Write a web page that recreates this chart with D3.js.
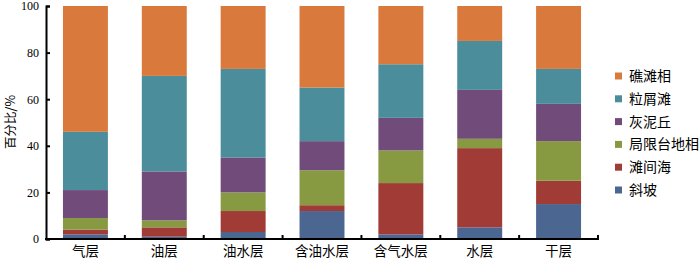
<!DOCTYPE html>
<html>
<head>
<meta charset="utf-8">
<script src="https://cdn.jsdelivr.net/npm/d3@7"></script>
<style>
  body { margin: 0; background: #ffffff; }
  text { font-family: "Noto Sans CJK SC", "Liberation Serif", serif; }
</style>
</head>
<body>
<svg width="700" height="260"></svg>
<script>
// categories along the x axis
var layers = ['气层', '油层', '油水层', '含油水层', '含气水层', '水层', '干层'];

// series, bottom to top of each bar (percent)
var seriesNames = ['斜坡', '滩间海', '局限台地相', '灰泥丘', '粒屑滩', '礁滩相'];
var xiePo      = [2, 1, 3, 12, 2, 5, 15];
var tanJianHai = [2, 4, 9, 2.5, 22, 34, 10];
var juXian     = [5, 3, 8, 15, 14, 4, 17];
var huiNiQiu   = [12, 21, 15, 12.5, 14, 21, 16];
var liXieTan   = [25, 41, 38, 23, 23, 21, 15];
var jiaoTan    = [54, 30, 27, 35, 25, 15, 27];

var yTicks = [0, 20, 40, 60, 80, 100];

var colors = ['#4c6692', '#a13b36', '#879a42', '#714c7b', '#4b8d9b', '#d97a3c'];

var seriesValues = [xiePo, tanJianHai, juXian, huiNiQiu, liXieTan, jiaoTan];

var rows = layers.map(function (name, i) {
  var row = {layer: name};
  for (var s = 0; s < seriesNames.length; s++) {
    row[seriesNames[s]] = seriesValues[s][i];
  }
  return row;
});

var stacked = d3.stack().keys(seriesNames)(rows);

var plotLeft = 46, plotRight = 598, plotTop = 6, plotBottom = 239;

var x = d3.scaleBand()
  .domain(layers)
  .range([plotLeft, plotRight])
  .paddingInner(0.43)
  .paddingOuter(0.215);

var y = d3.scaleLinear()
  .domain([0, 100])
  .range([plotBottom, plotTop]);

var svg = d3.select('svg');

for (var s = 0; s < stacked.length; s++) {
  svg.append('g')
     .attr('fill', colors[s])
     .selectAll('rect')
     .data(stacked[s])
     .enter()
     .append('rect')
     .attr('x', function (d) { return x(d.data.layer); })
     .attr('width', x.bandwidth())
     .attr('y', function (d) { return y(d[1]); })
     .attr('height', function (d) { return y(d[0]) - y(d[1]); });
}

// y axis, ticks pointing inward
var yAxis = svg.append('g')
  .attr('transform', 'translate(' + plotLeft + ',0)')
  .call(d3.axisLeft(y).tickValues(yTicks).tickSize(-4).tickPadding(7));
yAxis.select('.domain').attr('stroke', '#000').attr('stroke-width', 2);
yAxis.selectAll('.tick line').attr('stroke', '#000').attr('stroke-width', 2);
yAxis.selectAll('text')
  .style('font-family', '"Liberation Serif", serif')
  .style('font-size', '12px')
  .attr('fill', '#000');

// x axis, boundary ticks pointing up
var xAxis = svg.append('g')
  .attr('transform', 'translate(0,' + plotBottom + ')');
xAxis.append('line')
  .attr('x1', plotLeft - 1)
  .attr('x2', plotRight + 1)
  .attr('stroke', '#000')
  .attr('stroke-width', 2);

var step = x.step();
for (var i = 1; i <= layers.length; i++) {
  var bx = x(layers[0]) - x.paddingOuter() * step + i * step;
  xAxis.append('line')
     .attr('x1', bx)
     .attr('x2', bx)
     .attr('y1', 0)
     .attr('y2', -4)
     .attr('stroke', '#000')
     .attr('stroke-width', 2);
}

for (var i = 0; i < layers.length; i++) {
  xAxis.append('text')
     .attr('x', x(layers[i]) + x.bandwidth() / 2)
     .attr('y', 17)
     .attr('text-anchor', 'middle')
     .style('font-size', '13.5px')
     .text(layers[i]);
}

// y title
svg.append('text')
   .attr('transform', 'translate(15,122) rotate(-90)')
   .attr('text-anchor', 'middle')
   .style('font-size', '12.5px')
   .text('百分比/%');

// legend, top item is the top series
var legend = svg.append('g');
for (var s = 0; s < seriesNames.length; s++) {
  var ly = 190 - s * 22.8;
  legend.append('rect')
     .attr('x', 615)
     .attr('y', ly - 3.5)
     .attr('width', 7)
     .attr('height', 7)
     .attr('fill', colors[s]);
  legend.append('text')
     .attr('x', 629)
     .attr('y', ly + 5)
     .style('font-size', '14px')
     .text(seriesNames[s]);
}
</script>
</body>
</html>
